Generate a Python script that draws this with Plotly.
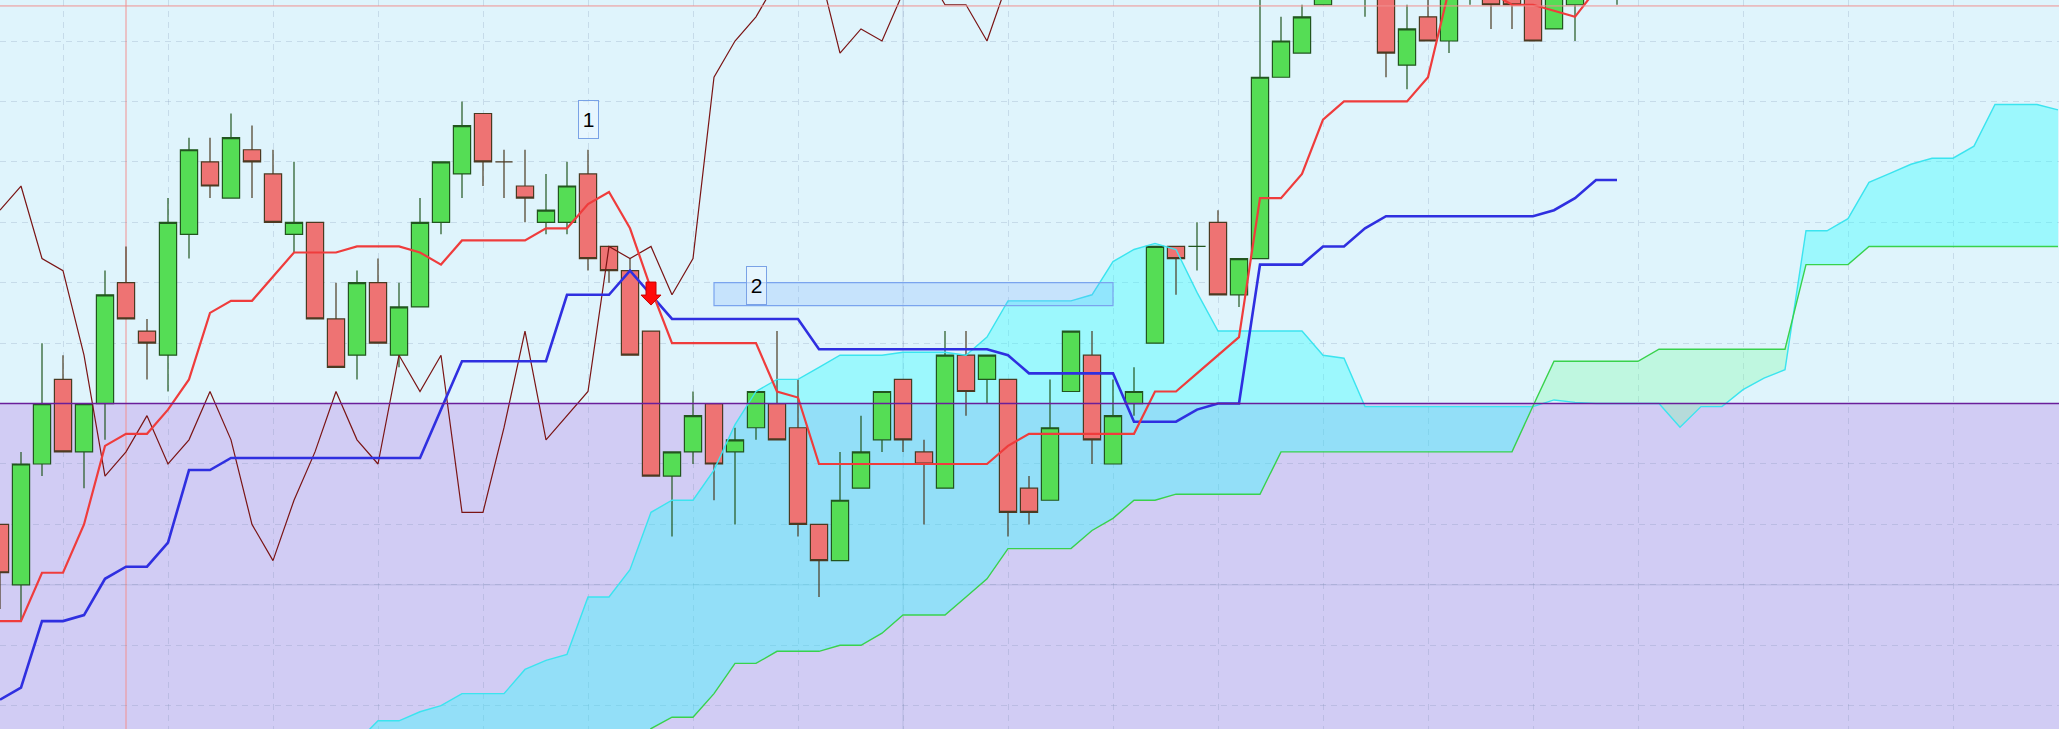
import plotly.graph_objects as go

# ---------------- data ----------------
idx = list(range(78))
opens = [80, 70, 90, 104, 92, 100, 120, 112, 108, 128, 140, 134, 142, 138, 128, 130, 114, 108, 120, 108,
         116, 130, 138, 148, 140, 136, 130, 130, 138, 126, 122, 112, 88, 92, 100, 92, 96, 100, 96, 80,
         74, 86, 94, 104, 92, 86, 108, 104, 104, 86, 84, 102, 108, 90, 100, 110, 126, 126, 130, 118,
         124, 154, 158, 166, 170, 170, 170, 156, 164, 160, 170, 170, 170, 170, 162, 166, 170, 170]
highs = [80, 92, 110, 108, 100, 122, 126, 114, 134, 144, 144, 148, 146, 142, 140, 130, 120, 122, 124, 120,
         134, 140, 150, 148, 142, 142, 138, 140, 142, 126, 124, 112, 92, 102, 100, 96, 102, 112, 104, 80,
         92, 98, 102, 104, 94, 112, 112, 108, 104, 88, 104, 112, 112, 104, 106, 126, 126, 130, 132, 124,
         168, 164, 166, 172, 174, 174, 172, 166, 168, 170, 174, 172, 172, 172, 172, 172, 174, 174]
lows = [66, 64, 88, 92, 86, 94, 114, 104, 102, 124, 134, 134, 134, 130, 125, 114, 106, 104, 110, 106,
        116, 128, 134, 136, 134, 130, 128, 128, 122, 120, 108, 88, 78, 90, 84, 80, 94, 94, 78, 68,
        74, 86, 92, 92, 80, 86, 98, 100, 78, 80, 84, 102, 90, 90, 98, 110, 118, 122, 118, 116,
        124, 154, 158, 166, 168, 164, 154, 152, 160, 158, 166, 162, 162, 160, 162, 160, 168, 166]
closes = [72, 90, 100, 92, 100, 118, 114, 110, 130, 142, 136, 144, 140, 130, 130, 114, 106, 120, 110, 116,
          130, 140, 146, 140, 140, 134, 132, 136, 124, 122, 108, 88, 92, 98, 90, 94, 102, 94, 80, 74,
          84, 92, 102, 94, 90, 108, 102, 108, 82, 82, 96, 112, 94, 98, 102, 126, 124, 126, 118, 124,
          154, 160, 164, 170, 172, 172, 158, 162, 160, 168, 172, 166, 166, 160, 170, 170, 172, 172]

tenkan = [64, 64, 72, 72, 80, 93, 95, 95, 99, 104, 115, 117, 117, 121, 125, 125, 125, 126, 126, 126,
          125, 123, 127, 127, 127, 127, 129, 129, 133, 135, 129, 119, 110, 110, 110, 110, 110, 102, 101, 90,
          90, 90, 90, 90, 90, 90, 90, 90, 93, 95, 95, 95, 95, 95, 95, 102, 102, 105, 108, 111,
          134, 134, 138, 147, 150, 150, 150, 150, 154, 168.5, 168.5, 168, 166, 166, 165, 164, 168.5, 169]
kijun = [51, 53, 64, 64, 65, 71, 73, 73, 77, 89, 89, 91, 91, 91, 91, 91, 91, 91, 91, 91,
         91, 99, 107, 107, 107, 107, 107, 118, 118, 118, 122, 118, 114, 114, 114, 114, 114, 114, 114, 109,
         109, 109, 109, 109, 109, 109, 109, 109, 108, 105, 105, 105, 105, 105, 97, 97, 97, 99, 100, 100,
         123, 123, 123, 126, 126, 129, 131, 131, 131, 131, 131, 131, 131, 131, 132, 134, 137, 137]

span_x = list(range(17, 99))
span_a = [44, 47.5, 47.5, 49, 50, 52, 52, 52, 56, 57.5, 58.5, 68, 68, 72.5, 82, 84, 84, 89, 96.5, 102,
          104, 104, 106, 108, 108, 108, 108.5, 108.5, 108.5, 108, 111, 117, 117, 117, 117, 118, 123.5, 125.5, 126.5, 125.5,
          118.4, 112, 112, 112, 112, 112, 108, 107.5, 99.5, 99.5, 99.5, 99.5, 99.5, 99.5, 99.5, 99.5, 99.5, 100.6, 100.2, 100,
          100, 100, 100, 96.1, 99.5, 99.5, 102.3, 104.2, 105.6, 128.6, 128.6, 130.6, 136.6, 138.1, 139.6, 140.6, 140.6, 142.6, 149.5, 149.5,
          149.5, 148.6]
span_b = [42, 42, 42, 42, 42, 42, 42, 42, 42, 42, 42, 42, 42, 42, 46.2, 48.1, 48.1, 52, 57, 57,
          59, 59, 59, 60, 60, 62, 65, 65, 65, 68, 71, 76, 76, 76, 76, 79, 81, 84, 84, 85,
          85, 85, 85, 85, 92, 92, 92, 92, 92, 92, 92, 92, 92, 92, 92, 92, 99.6, 107, 107, 107,
          107, 107, 109, 109, 109, 109, 109, 109, 109, 123, 123, 123, 126, 126, 126, 126, 126, 126, 126, 126,
          126, 126]
chikou_shift = 26

label_x = [28, 36]
label_y = [147, 119.5]
label_text = ["1", "2"]
zone_x = [34, 53]
zone_y = [116.2, 120.0]
signal_x = [31]
signal_y = [116.3]
pivot_level = 100
top_level = 165.8
marker_day = 6
solid_grid_x = 43
solid_grid_y = 70

# ---------------- figure ----------------
BG_TOP = "#dff4fc"
BG_LOW = "#d1ccf4"
XR = [0, 2059 / 21]
YR = [166.785 - 729 / 6.0427, 166.785]


def with_crossings(xs, a, b):
    X, A, B = [], [], []
    for i in range(len(xs)):
        X.append(xs[i]); A.append(a[i]); B.append(b[i])
        if i < len(xs) - 1:
            d0 = a[i] - b[i]
            d1 = a[i + 1] - b[i + 1]
            if d0 * d1 < 0:
                t = d0 / (d0 - d1)
                X.append(xs[i] + t * (xs[i + 1] - xs[i]))
                yc = a[i] + t * (a[i + 1] - a[i])
                A.append(yc); B.append(yc)
    return X, A, B


cx, ca, cb = with_crossings(span_x, span_a, span_b)
ctop = [max(p, q) for p, q in zip(ca, cb)]

fig = go.Figure()
nol = dict(width=0)
# cloud fills on the base axes (drawn underneath)
fig.add_trace(go.Scatter(x=cx, y=cb, mode="lines", line=nol, hoverinfo="skip"))
fig.add_trace(go.Scatter(x=cx, y=ctop, mode="lines", line=nol, fill="tonexty",
                         fillcolor="rgba(40,255,255,0.37)", hoverinfo="skip"))
fig.add_trace(go.Scatter(x=cx, y=ca, mode="lines", line=nol, hoverinfo="skip"))
fig.add_trace(go.Scatter(x=cx, y=ctop, mode="lines", line=nol, fill="tonexty",
                         fillcolor="rgba(120,255,160,0.30)", hoverinfo="skip"))

# candles and indicator lines on overlaid axes (drawn on top of the cloud)
ov = dict(xaxis="x2", yaxis="y2")
fig.add_trace(go.Candlestick(
    x=idx, open=opens, high=highs, low=lows, close=closes,
    increasing=dict(fillcolor="#55dd55", line=dict(color="#22561f", width=1.2)),
    decreasing=dict(fillcolor="#ee7373", line=dict(color="#4b3a22", width=1.2)),
    whiskerwidth=0, **ov,
))
fig.add_trace(go.Scatter(x=span_x, y=span_a, mode="lines", line=dict(color="#3be4ef", width=1.4), **ov))
fig.add_trace(go.Scatter(x=span_x, y=span_b, mode="lines", line=dict(color="#38d24c", width=1.4), **ov))
fig.add_trace(go.Scatter(x=idx[:len(idx) - chikou_shift], y=closes[chikou_shift:], mode="lines",
                         line=dict(color="#7a1414", width=1.2), **ov))
fig.add_trace(go.Scatter(x=idx, y=kijun, mode="lines", line=dict(color="#2f2fe0", width=2.6), **ov))
fig.add_trace(go.Scatter(x=idx, y=tenkan, mode="lines", line=dict(color="#ef3c3c", width=2.2), **ov))

shapes = [
    dict(type="rect", xref="x domain", x0=0, x1=1, yref="y", y0=0, y1=pivot_level,
         fillcolor=BG_LOW, line=dict(width=0), layer="below"),
    dict(type="line", xref="x", x0=solid_grid_x, x1=solid_grid_x, yref="y domain", y0=0, y1=1,
         line=dict(color="rgba(120,130,175,0.28)", width=1), layer="below"),
    dict(type="line", xref="x domain", x0=0, x1=1, yref="y", y0=solid_grid_y, y1=solid_grid_y,
         line=dict(color="rgba(120,130,175,0.28)", width=1), layer="below"),
    dict(type="line", xref="x", x0=marker_day, x1=marker_day, yref="y domain", y0=0, y1=1,
         line=dict(color="#f29090", width=1), layer="below"),
    dict(type="line", xref="x domain", x0=0, x1=1, yref="y", y0=top_level, y1=top_level,
         line=dict(color="#f09090", width=1), layer="above"),
    dict(type="line", xref="x domain", x0=0, x1=1, yref="y", y0=pivot_level, y1=pivot_level,
         line=dict(color="#6a1e9a", width=1.5), layer="above"),
    dict(type="rect", xref="x", x0=zone_x[0], x1=zone_x[1], yref="y", y0=zone_y[0], y1=zone_y[1],
         fillcolor="rgba(110,170,255,0.22)", line=dict(color="#7aa4ee", width=1.2), layer="above"),
]
for sx, sy in zip(signal_x, signal_y):
    shapes.append(dict(type="path", xref="x", yref="y", xsizemode="pixel", ysizemode="pixel",
                       xanchor=sx, yanchor=sy,
                       path="M0,0 L-10,10 L-5,10 L-5,23 L5,23 L5,10 L10,10 Z",
                       fillcolor="#ff0a0a", line=dict(color="#c80000", width=1), layer="above"))

annotations = []
for lx, ly, lt in zip(label_x, label_y, label_text):
    annotations.append(dict(x=lx, y=ly, xref="x", yref="y", text=lt, showarrow=False,
                            font=dict(family="Liberation Sans", size=21, color="#000000"),
                            bordercolor="#7aa2e6", borderwidth=1, borderpad=2,
                            bgcolor="rgba(236,248,255,0.55)", width=15, height=33))

grid = dict(showgrid=True, gridcolor="rgba(110,130,170,0.22)", gridwidth=1, griddash="6px,5px",
            showticklabels=False, ticks="", zeroline=False, showline=False)
hidden = dict(showgrid=False, showticklabels=False, ticks="", zeroline=False, showline=False)

fig.update_layout(
    width=2059, height=729,
    margin=dict(l=0, r=0, t=0, b=0),
    paper_bgcolor=BG_TOP, plot_bgcolor=BG_TOP,
    showlegend=False,
    boxgap=0.1, boxgroupgap=0.09,
    shapes=shapes, annotations=annotations,
    xaxis=dict(range=XR, tick0=3, dtick=5, rangeslider=dict(visible=False), **grid),
    yaxis=dict(range=YR, tick0=0, dtick=10, **grid),
    xaxis2=dict(range=XR, overlaying="x", rangeslider=dict(visible=False), **hidden),
    yaxis2=dict(range=YR, overlaying="y", **hidden),
)

fig.write_html("out.html", config={"displayModeBar": False},
               post_script="document.body.style.margin='0';document.body.style.overflow='hidden';")
